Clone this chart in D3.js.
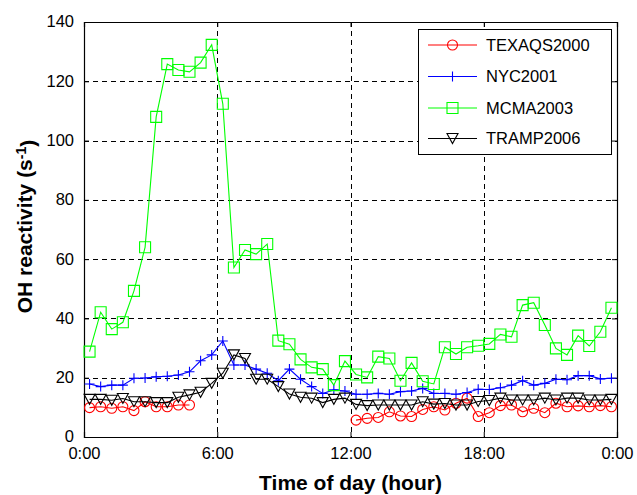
<!DOCTYPE html>
<html>
<head>
<meta charset="utf-8">
<script src="https://cdn.jsdelivr.net/npm/d3@7"></script>
<style>
  html, body { margin: 0; padding: 0; background: #fff; }
  svg { display: block; font-family: "Liberation Sans", Arial, sans-serif; }
</style>
</head>
<body>
<svg id="chart" width="637" height="495"></svg>
<script>
// ---- data ----
const timeHours = [0.25, 0.75, 1.25, 1.75, 2.25, 2.75, 3.25, 3.75, 4.25, 4.75, 5.25, 5.75,
  6.25, 6.75, 7.25, 7.75, 8.25, 8.75, 9.25, 9.75, 10.25, 10.75, 11.25, 11.75,
  12.25, 12.75, 13.25, 13.75, 14.25, 14.75, 15.25, 15.75, 16.25, 16.75, 17.25, 17.75,
  18.25, 18.75, 19.25, 19.75, 20.25, 20.75, 21.25, 21.75, 22.25, 22.75, 23.25, 23.75];

const texaqs2000 = [9.9, 10.2, 9.7, 10.2, 8.9, 11.9, 10.2, 10.2, 10.8, 10.8,
  null, null, null, null, null, null, null, null, null, null, null, null, null, null,
  5.7, 6.3, 6.6, 8.5, 7.1, 6.9, 9.3, 10.2, 9.1, 11.4, 13.1, 6.9,
  8.2, 10.6, 10.8, 8.5, 9.7, 8.2, 11.4, 10.2, 10.5, 10.2, 10.6, 10.2];

const nyc2001 = [17.9, 17.0, 17.5, 17.5, 19.8, 19.9, 20.3, 20.5, 20.9, 22.0, 25.7, 27.7,
  32.4, 24.3, 24.3, 22.9, 21.5, 19.0, 22.9, 19.5, 17.0, 14.7, 15.9, 15.5,
  14.4, 14.4, 14.7, 14.4, 15.3, 15.5, 16.4, 14.7, 14.7, 14.4, 15.0, 16.1,
  16.0, 16.6, 17.5, 19.0, 17.5, 18.1, 19.5, 19.3, 20.7, 20.7, 19.6, 19.8];

const mcma2003 = [28.8, 42.1, 36.4, 38.7, 49.3, 64.0, 108.0, 125.8, 123.8, 123.2, 126.3, 132.3,
  112.4, 57.2, 63.1, 61.7, 65.1, 32.5, 31.3, 26.2, 23.5, 22.9, 17.5, 25.6,
  21.1, 20.1, 27.1, 26.5, 19.0, 25.0, 18.8, 17.9, 30.3, 28.0, 30.3, 30.8,
  31.4, 34.6, 33.8, 44.5, 45.3, 37.8, 29.9, 27.7, 34.2, 30.7, 35.5, 43.6];

const tramp2006 = [12.7, 12.7, 12.4, 13.0, 11.9, 11.9, 11.6, 11.6, 13.4, 14.2, 15.1, 18.1,
  21.5, 27.7, 26.5, 19.5, 19.5, 17.0, 14.5, 13.4, 13.1, 11.6, 12.7, 13.1,
  11.0, 10.6, 10.8, 10.8, 10.8, 10.8, 11.9, 11.1, 11.3, 10.8, 10.8, 12.0,
  12.3, 13.1, 12.5, 12.5, 12.5, 13.1, 12.5, 13.1, 13.1, 12.5, 12.5, 12.7];

const seriesNames = ["TEXAQS2000", "NYC2001", "MCMA2003", "TRAMP2006"];
const seriesColors = ["#ff0000", "#0000ff", "#00ff00", "#000000"];
const seriesMarkers = ["circle", "plus", "square", "triangle"];
const seriesValues = [texaqs2000, nyc2001, mcma2003, tramp2006];

const xTickValues = [0, 6, 12, 18, 24];
const xTickLabels = ["0:00", "6:00", "12:00", "18:00", "0:00"];
const yTickValues = [0, 20, 40, 60, 80, 100, 120, 140];

// ---- layout ----
const L = 84, R = 617, T = 22, B = 437;
const svg = d3.select("#chart");
const x = d3.scaleLinear().domain([0, 24]).range([L, R]);
const y = d3.scaleLinear().domain([0, 140]).range([B, T]);

// grid
const grid = svg.append("g").attr("stroke", "#000").attr("stroke-width", 1)
  .attr("stroke-dasharray", "5,4").attr("shape-rendering", "crispEdges");
grid.selectAll(".gx").data(xTickValues.slice(1, -1)).join("line")
  .attr("x1", d => Math.round(x(d)) + 0.5).attr("x2", d => Math.round(x(d)) + 0.5)
  .attr("y1", T).attr("y2", B);
grid.selectAll(".gy").data(yTickValues.slice(1, -1)).join("line")
  .attr("y1", d => Math.round(y(d)) + 0.5).attr("y2", d => Math.round(y(d)) + 0.5)
  .attr("x1", L).attr("x2", R);

// axes
const fs = 16.5;
const axB = svg.append("g").attr("transform", `translate(0,${B})`)
  .call(d3.axisBottom(x).tickValues(xTickValues).tickFormat((d, i) => xTickLabels[i]).tickSize(-5).tickPadding(10));
const axT = svg.append("g").attr("transform", `translate(0,${T})`)
  .call(d3.axisTop(x).tickValues(xTickValues).tickFormat("").tickSize(-5));
const axL = svg.append("g").attr("transform", `translate(${L},0)`)
  .call(d3.axisLeft(y).tickValues(yTickValues).tickSize(-5).tickPadding(10));
const axR = svg.append("g").attr("transform", `translate(${R},0)`)
  .call(d3.axisRight(y).tickValues(yTickValues).tickFormat("").tickSize(-5));
[axB, axT, axL, axR].forEach(a => {
  a.selectAll("path.domain").attr("stroke", "#000").attr("stroke-width", 1.2);
  a.selectAll(".tick line").attr("stroke", "#000");
  a.selectAll("text").attr("fill", "#000").style("font-size", fs + "px")
    .style("font-family", "'Liberation Sans', Arial, sans-serif");
});
axL.selectAll(".tick text").attr("dy", "0.3em");

// series
const markerPath = {
  circle: d3.symbol().type(d3.symbolCircle).size(Math.PI * 5 * 5)(),
  square: "M-5.5,-5.5H5.5V5.5H-5.5Z",
  plus: "M-5,0H5M0,-5V5",
  triangle: "M-5.5,-5L5.5,-5L0,5Z"
};
seriesValues.forEach((vals, si) => {
  const pts = timeHours.map((t, i) => ({ t, v: vals[i] }));
  const g = svg.append("g");
  const line = d3.line().defined(d => d.v !== null).x(d => x(d.t)).y(d => y(d.v));
  g.append("path").datum(pts).attr("d", line).attr("fill", "none")
    .attr("stroke", seriesColors[si]).attr("stroke-width", 1.1);
  g.selectAll("path.m").data(pts.filter(d => d.v !== null)).join("path")
    .attr("class", "m")
    .attr("transform", d => `translate(${x(d.t)},${y(d.v)})`)
    .attr("d", markerPath[seriesMarkers[si]])
    .attr("fill", "none").attr("stroke", seriesColors[si]).attr("stroke-width", 1.1);
});

// legend
const lg = svg.append("g");
lg.append("rect").attr("x", 418.5).attr("y", 29.5).attr("width", 193).attr("height", 125)
  .attr("fill", "#fff").attr("stroke", "#000").attr("stroke-width", 1);
const rowY = [45, 76.5, 108, 138.5];
seriesNames.forEach((name, i) => {
  const ry = rowY[i];
  lg.append("line").attr("x1", 428).attr("x2", 477).attr("y1", ry).attr("y2", ry)
    .attr("stroke", seriesColors[i]).attr("stroke-width", 1.1);
  lg.append("path").attr("transform", `translate(452.5,${ry})`).attr("d", markerPath[seriesMarkers[i]])
    .attr("fill", "none").attr("stroke", seriesColors[i]).attr("stroke-width", 1.1);
  lg.append("text").attr("x", 486).attr("y", ry).attr("dy", "0.35em")
    .style("font-size", fs + "px").attr("fill", "#000").text(name);
});

// axis titles
svg.append("text").attr("x", (L + R) / 2).attr("y", 490).attr("text-anchor", "middle")
  .style("font-size", "21px").style("font-weight", "bold").text("Time of day (hour)");
const yt = svg.append("text").attr("transform", `translate(32,${(T + B) / 2 - 3}) rotate(-90)`)
  .attr("text-anchor", "middle").style("font-size", "21px").style("font-weight", "bold");
yt.append("tspan").text("OH reactivity (s");
yt.append("tspan").attr("dy", "-0.45em").style("font-size", "14px").text("-1");
yt.append("tspan").attr("dy", "0.45em").text(")");
</script>
</body>
</html>
